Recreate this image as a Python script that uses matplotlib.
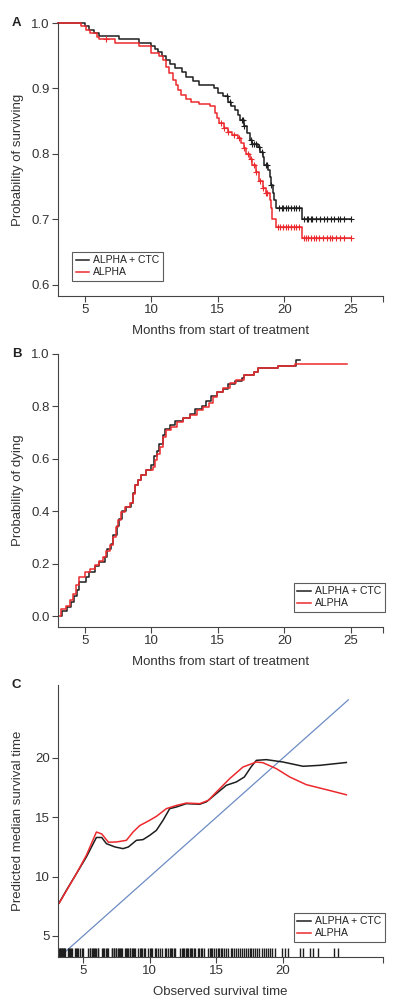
import numpy as np
import matplotlib.pyplot as plt

plt.rcParams['font.family'] = ['Liberation Sans', 'DejaVu Sans']

# panel A: Kaplan-Meier survival (step times, survival after step)
a_ctc_t = [3.0, 5.0, 5.35, 5.7, 6.1, 7.6, 9.1, 10.0, 10.25, 10.5, 10.8, 11.1, 11.4, 11.8,
           12.3, 12.6, 13.1, 13.6, 14.7, 15.0, 15.4, 15.8, 16.0, 16.3, 16.5, 16.7, 17.0,
           17.2, 17.4, 17.6, 18.0, 18.2, 18.4, 18.5, 18.8, 18.9, 19.0, 19.15, 19.25, 19.4,
           21.3, 25.0]
a_ctc_s = [1.0, 0.995, 0.99, 0.985, 0.98, 0.975, 0.97, 0.965, 0.96, 0.955, 0.95, 0.944,
           0.938, 0.932, 0.925, 0.918, 0.912, 0.906, 0.9, 0.893, 0.888, 0.88, 0.873, 0.867,
           0.86, 0.852, 0.842, 0.832, 0.822, 0.815, 0.81, 0.803, 0.795, 0.783, 0.776, 0.765,
           0.752, 0.74, 0.73, 0.718, 0.70, 0.70]
a_ctc_cens = [15.7, 15.9, 16.8, 16.9, 17.0, 17.5, 17.6, 17.7, 17.9, 18.1, 18.3, 18.6, 18.7,
              19.0, 19.6, 19.8, 19.9, 20.1, 20.3, 20.5, 20.7, 20.9, 21.1, 21.5, 21.7, 21.8,
              22.0, 22.1, 22.4, 22.7, 23.0, 23.2, 23.5, 23.7, 24.0, 24.2, 24.5, 25.0]

a_alpha_t = [3.0, 4.75, 5.1, 5.4, 5.9, 6.1, 7.25, 9.1, 10.0, 10.6, 10.9, 11.1, 11.35, 11.6,
             11.85, 12.0, 12.2, 12.6, 13.0, 13.6, 14.4, 14.75, 14.9, 15.1, 15.5, 15.75, 16.1,
             16.5, 16.75, 17.0, 17.1, 17.4, 17.6, 17.9, 18.1, 18.4, 18.6, 18.9, 19.0, 19.1,
             19.35, 21.3, 25.0]
a_alpha_s = [1.0, 0.995, 0.989, 0.984, 0.979, 0.975, 0.97, 0.965, 0.954, 0.949, 0.944, 0.933,
             0.923, 0.913, 0.905, 0.898, 0.89, 0.884, 0.88, 0.877, 0.873, 0.862, 0.855, 0.847,
             0.84, 0.834, 0.829, 0.824, 0.816, 0.809, 0.80, 0.793, 0.783, 0.773, 0.758, 0.748,
             0.74, 0.73, 0.717, 0.70, 0.689, 0.671, 0.671]
a_alpha_cens = [6.6, 15.2, 15.5, 15.8, 16.2, 16.6, 17.0, 17.3, 17.5, 17.7, 17.9, 18.2, 18.4,
                18.6, 18.7, 19.5, 19.7, 19.9, 20.1, 20.3, 20.5, 20.7, 20.9, 21.1, 21.5, 21.6,
                21.8, 22.0, 22.2, 22.4, 22.6, 22.9, 23.2, 23.4, 23.6, 23.9, 24.2, 24.5, 25.0]

# panel B: cumulative probability of dying
b_ctc_t = [3.2, 3.3, 3.7, 4.0, 4.2, 4.4, 4.6, 5.1, 5.3, 5.75, 6.1, 6.5, 6.7, 6.95, 7.15, 7.4,
           7.55, 7.8, 8.1, 8.5, 8.65, 8.8, 9.0, 9.25, 9.6, 10.0, 10.2, 10.4, 10.6, 10.85,
           11.05, 11.4, 11.8, 12.4, 12.9, 13.3, 13.8, 14.1, 14.5, 14.9, 15.4, 15.8, 16.3,
           16.8, 17.0, 17.75, 18.0, 19.55, 20.85, 21.2]
b_ctc_p = [0.0, 0.02, 0.035, 0.055, 0.075, 0.10, 0.13, 0.15, 0.17, 0.19, 0.205, 0.225, 0.255,
           0.275, 0.31, 0.345, 0.37, 0.40, 0.415, 0.43, 0.47, 0.50, 0.52, 0.538, 0.557, 0.575,
           0.61, 0.63, 0.655, 0.69, 0.715, 0.73, 0.745, 0.755, 0.77, 0.79, 0.80, 0.82, 0.84,
           0.855, 0.865, 0.885, 0.895, 0.91, 0.92, 0.932, 0.945, 0.954, 0.977, 0.977]

b_alpha_t = [3.1, 3.25, 3.6, 3.9, 4.1, 4.35, 4.6, 5.0, 5.4, 5.75, 6.1, 6.4, 6.6, 6.9, 7.1,
             7.35, 7.5, 7.75, 8.0, 8.4, 8.6, 8.75, 9.0, 9.25, 9.6, 10.1, 10.3, 10.45, 10.65,
             10.9, 11.1, 11.5, 11.9, 12.4, 12.9, 13.4, 13.9, 14.3, 14.6, 14.9, 15.4, 15.9,
             16.4, 17.0, 17.75, 18.0, 19.55, 20.8, 24.7]
b_alpha_p = [0.0, 0.028, 0.04, 0.06, 0.085, 0.117, 0.149, 0.168, 0.18, 0.194, 0.209, 0.225,
             0.25, 0.27, 0.30, 0.34, 0.366, 0.397, 0.417, 0.43, 0.467, 0.50, 0.52, 0.538,
             0.557, 0.57, 0.595, 0.62, 0.646, 0.684, 0.71, 0.722, 0.741, 0.754, 0.767, 0.786,
             0.799, 0.814, 0.837, 0.854, 0.869, 0.888, 0.90, 0.92, 0.932, 0.945, 0.954, 0.962,
             0.962]

# panel C: predicted median vs observed survival
c_ctc_x = [3.2, 3.75, 4.5, 5.25, 6.0, 6.4, 6.75, 7.4, 8.0, 8.4, 9.0, 9.5, 10.0, 10.5, 11.0,
           11.5, 12.0, 12.75, 13.75, 14.25, 15.0, 15.75, 16.5, 17.1, 17.6, 18.0, 18.75, 20.0,
           21.5, 22.75, 24.75]
c_ctc_y = [7.78, 8.85, 10.25, 11.66, 13.3, 13.3, 12.78, 12.5, 12.36, 12.5, 13.06, 13.12,
           13.48, 13.9, 14.75, 15.73, 15.87, 16.15, 16.1, 16.3, 17.0, 17.7, 17.98, 18.4,
           19.24, 19.8, 19.86, 19.66, 19.3, 19.38, 19.62]
c_alpha_x = [3.2, 4.5, 5.25, 6.0, 6.4, 6.9, 7.5, 8.25, 8.75, 9.25, 10.0, 10.5, 11.25, 12.0,
             12.75, 13.75, 14.4, 15.0, 16.0, 17.0, 18.0, 18.5, 19.5, 20.5, 21.75, 23.25, 24.75]
c_alpha_y = [7.75, 10.25, 11.8, 13.76, 13.6, 12.9, 12.92, 13.06, 13.76, 14.3, 14.75, 15.08,
             15.73, 16.0, 16.2, 16.15, 16.43, 17.13, 18.26, 19.24, 19.66, 19.6, 19.1, 18.4,
             17.75, 17.33, 16.9]
c_diag = [3.3, 24.9]
rug_times = [3.2, 3.25, 3.3, 3.35, 3.4, 3.45, 3.5, 3.55, 3.6, 3.65, 3.9, 3.95, 4.0, 4.1, 4.15,
             4.4, 4.5, 4.55, 4.65, 4.75, 4.9, 5.0, 5.4, 5.5, 5.55, 5.65, 5.75, 5.8, 5.9, 6.0,
             6.1, 6.15, 6.4, 6.5, 6.6, 6.7, 6.8, 6.9, 7.15, 7.2, 7.3, 7.35, 7.45, 7.5, 7.6,
             7.7, 7.75, 7.85, 7.9, 8.15, 8.2, 8.3, 8.4, 8.5, 8.55, 8.65, 8.75, 8.8, 8.9, 9.15,
             9.25, 9.35, 9.45, 9.55, 9.65, 9.9, 10.0, 10.1, 10.15, 10.4, 10.5, 10.6, 10.75,
             10.9, 11.15, 11.25, 11.35, 11.5, 11.6, 11.7, 11.8, 11.9, 12.25, 12.4, 12.5, 12.6,
             12.7, 12.8, 12.9, 13.0, 13.1, 13.2, 13.3, 13.4, 13.6, 13.7, 13.85, 13.95, 14.1,
             14.4, 14.5, 14.6, 14.7, 14.85, 14.95, 15.1, 15.2, 15.35, 15.45, 15.6, 15.75, 15.9,
             16.1, 16.2, 16.35, 16.45, 16.6, 16.75, 16.9, 17.1, 17.2, 17.35, 17.5, 17.6, 17.75,
             17.9, 18.05, 18.2, 18.4, 18.6, 18.75, 18.9, 19.05, 19.2, 19.4, 19.9, 20.15, 20.4,
             21.3, 21.5, 22.0, 22.25, 22.65, 23.8, 24.15]

RED = '#ec2a2e'
BLK = '#1e1e1e'
GREY = '#444444'


def step_at(t, s, pts):
    idx = np.searchsorted(t, pts, side='right') - 1
    return np.asarray(s)[idx]


def style(ax, xlim, ylim, xticks, xlabels, yticks, ylabels):
    ax.set_xlim(xlim)
    ax.set_ylim(ylim)
    ax.set_xticks(xticks)
    ax.set_xticklabels(xlabels)
    ax.set_yticks(yticks)
    ax.set_yticklabels(ylabels)
    for side in ['top', 'right']:
        ax.spines[side].set_visible(False)
    for side in ['left', 'bottom']:
        ax.spines[side].set_color(GREY)
        ax.spines[side].set_linewidth(0.8)
    ax.tick_params(direction='out', length=4, width=0.8, color=GREY,
                   labelsize=9.5, labelcolor='#333333', pad=2)


def legend(ax, loc, anchor):
    lg = ax.legend(loc=loc, bbox_to_anchor=anchor, fontsize=7.5, frameon=True,
                   fancybox=False, edgecolor='#333333', handlelength=1.3,
                   handletextpad=0.4, borderpad=0.35, labelspacing=0.2,
                   borderaxespad=0)
    lg.get_frame().set_linewidth(0.8)
    for txt in lg.get_texts():
        txt.set_color('#222222')


fig = plt.figure(figsize=(4.0, 10.05), dpi=100)

# ---- A
ax = fig.add_axes([0.145, 0.7055, 0.8125, 0.2716])
ax.step(a_ctc_t, a_ctc_s, where='post', color=BLK, lw=1.1, label='ALPHA + CTC', clip_on=False)
ax.step(a_alpha_t, a_alpha_s, where='post', color=RED, lw=1.1, label='ALPHA', clip_on=False)
ax.plot(a_ctc_cens, step_at(a_ctc_t, a_ctc_s, a_ctc_cens), '+', color=BLK, ms=5, mew=0.8)
ax.plot(a_alpha_cens, step_at(a_alpha_t, a_alpha_s, a_alpha_cens), '+', color=RED, ms=5, mew=0.8)
style(ax, (3.0, 27.4), (0.583, 1.0), [5, 10, 15, 20, 25, 27.4], ['5', '10', '15', '20', '25', ''],
      [0.6, 0.7, 0.8, 0.9, 1.0], ['0.6', '0.7', '0.8', '0.9', '1.0'])
ax.set_xlabel('Months from start of treatment', fontsize=9.5, color='#333333', labelpad=6)
ax.set_ylabel('Probability of surviving', fontsize=9.5, color='#333333', labelpad=5)
legend(ax, 'lower left', (0.043, 0.055))
fig.text(0.03, 0.977, 'A', fontsize=9.5, fontweight='bold', va='center', color='#222222')

# ---- B
ax = fig.add_axes([0.145, 0.376, 0.8125, 0.2718])
ax.step(b_ctc_t, b_ctc_p, where='post', color=BLK, lw=1.1, label='ALPHA + CTC')
ax.step(b_alpha_t, b_alpha_p, where='post', color=RED, lw=1.1, label='ALPHA')
style(ax, (3.0, 27.4), (-0.042, 1.0), [5, 10, 15, 20, 25, 27.4], ['5', '10', '15', '20', '25', ''],
      [0.0, 0.2, 0.4, 0.6, 0.8, 1.0], ['0.0', '0.2', '0.4', '0.6', '0.8', '1.0'])
ax.set_xlabel('Months from start of treatment', fontsize=9.5, color='#333333', labelpad=6)
ax.set_ylabel('Probability of dying', fontsize=9.5, color='#333333', labelpad=5)
legend(ax, 'lower right', (1.006, 0.055))
fig.text(0.03, 0.6478, 'B', fontsize=9.5, fontweight='bold', va='center', color='#222222')

# ---- C
ax = fig.add_axes([0.145, 0.0478, 0.8125, 0.2706])
ax.plot(c_diag, c_diag, color='#6c8cc4', lw=0.9)
ax.plot(c_ctc_x, c_ctc_y, color=BLK, lw=1.1, label='ALPHA + CTC')
ax.plot(c_alpha_x, c_alpha_y, color=RED, lw=1.1, label='ALPHA')
ax.vlines(rug_times, 0, 0.032, color=BLK, lw=1.0, transform=ax.get_xaxis_transform())
style(ax, (3.12, 27.5), (3.23, 26.15), [5, 10, 15, 20, 27.5], ['5', '10', '15', '20', ''],
      [5, 10, 15, 20], ['5', '10', '15', '20'])
ax.set_xlabel('Observed survival time', fontsize=9.5, color='#333333', labelpad=6)
ax.set_ylabel('Predicted median survival time', fontsize=9.5, color='#333333', labelpad=8)
legend(ax, 'lower right', (1.006, 0.055))
fig.text(0.03, 0.3184, 'C', fontsize=9.5, fontweight='bold', va='center', color='#222222')

fig.savefig('out.png', dpi=100)
